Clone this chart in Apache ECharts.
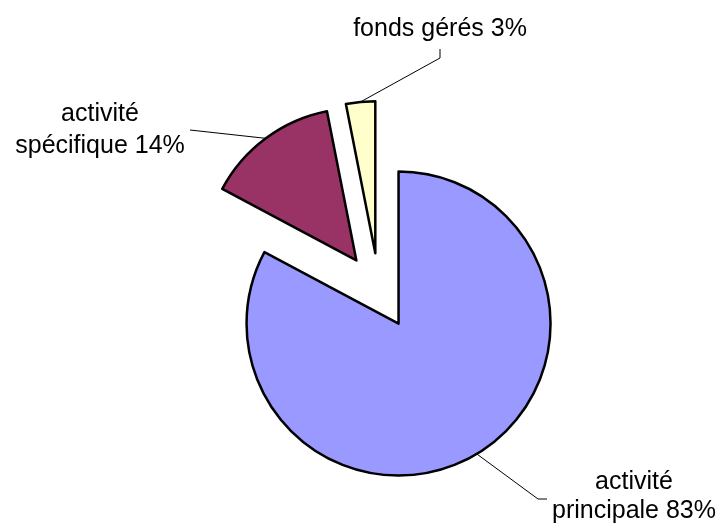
<!DOCTYPE html>
<html><head><meta charset="utf-8">
<script src="https://cdn.jsdelivr.net/npm/echarts@6/dist/echarts.min.js"></script>
<style>html,body{margin:0;padding:0;background:#fff}#c{width:720px;height:528px}</style>
</head><body><div id="c"></div>
<script>
// Data
const categories = ['activité\nprincipale', 'activité\nspécifique', 'fonds gérés'];
const values = [82.8, 14.1, 3.1];
const colors = ['#9999FF', '#993366', '#FFFFCC'];

const chart = echarts.init(document.getElementById('c'), null, {renderer: 'canvas'});

// label layout (text anchor + guide line bends), not data
const labelPlacement = [
  {x: 634, y: 497, lineHeight: 29, bends: [[538, 499], [547, 499]]},
  {x: 100, y: 130.5, lineHeight: 32, bends: [[190, 130], [190, 130]]},
  {x: 440, y: 29.5, lineHeight: 30, bends: [[440, 58], [440, 49]]}
];

const pieCenter = [379, 291];
const pieRadius = 152;
const explode = 38;

const fontFamily = 'Liberation Sans, Arial, sans-serif';

chart.setOption({
  animation: false,
  backgroundColor: '#ffffff',
  series: [{
    // exploded slices
    type: 'pie',
    center: pieCenter,
    radius: pieRadius,
    startAngle: 90,
    clockwise: true,
    selectedMode: 'multiple',
    selectedOffset: explode,
    avoidLabelOverlap: false,
    silent: true,
    itemStyle: {borderColor: '#000', borderWidth: 2.5},
    emphasis: {disabled: true},
    label: {show: false},
    labelLine: {show: false},
    data: categories.map((c, i) => ({
      name: c, value: values[i], selected: true,
      itemStyle: {color: colors[i]}
    }))
  }, {
    // invisible twin that carries the labels; its rim matches the exploded arcs' midpoints
    type: 'pie',
    center: pieCenter,
    radius: pieRadius + explode,
    startAngle: 90,
    clockwise: true,
    silent: true,
    avoidLabelOverlap: false,
    itemStyle: {color: 'rgba(0,0,0,0)', borderWidth: 0},
    emphasis: {disabled: true},
    label: {
      show: true,
      position: 'outside',
      fontFamily: fontFamily,
      fontSize: 25,
      lineHeight: 30,
      color: '#000',
      align: 'center',
      formatter: p => p.name + ' ' + Math.round(p.percent) + '%'
    },
    labelLine: {show: true, length: 20, length2: 10, lineStyle: {color: '#000', width: 1}},
    labelLayout: function (p) {
      const pl = labelPlacement[p.dataIndex];
      const start = p.labelLinePoints ? p.labelLinePoints[0] : pl.bends[0];
      return {
        x: pl.x, y: pl.y, align: 'center', verticalAlign: 'middle',
        labelLinePoints: [start, pl.bends[0], pl.bends[1]]
      };
    },
    data: categories.map((c, i) => ({
      name: c, value: values[i],
      label: {lineHeight: labelPlacement[i].lineHeight}
    }))
  }]
});
</script></body></html>
